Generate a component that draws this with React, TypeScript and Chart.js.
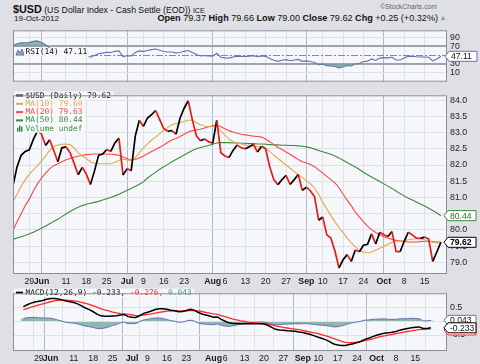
import React, { useEffect, useRef } from "react";
import { Chart, registerables } from "chart.js";
Chart.register(...registerables);

// ---------- data ----------
const tickIdx = [4, 7, 13, 18, 23, 28, 32, 37, 42, 49, 52, 57, 62, 67, 72, 76, 81, 86, 91, 96, 101];
const tickLabels = ["29", "Jun", "11", "18", "25", "Jul", "9", "16", "23", "Aug", "6", "13", "20", "27", "Sep", "10", "17", "24", "Oct", "8", "15"];
const monthLabels = ["Jun", "Jul", "Aug", "Sep", "Oct"];

const closeVals = [
  81.37, 81.95, 82.3, 82.42, 82.47, 82.79, 83.05, 82.95, 82.6, 82.78,
  82.45, 82.1, 82.53, 82.56, 82.38, 82.05, 81.7, 81.93, 81.72, 81.4,
  81.82, 82.3, 82.34, 82.48, 82.42, 82.68, 82.83, 81.69, 81.89, 81.82,
  82.89, 83.38, 83.19, 83.45, 83.55, 83.68, 83.4, 83.12, 83.04, 83.06,
  82.95, 83.45, 83.75, 83.98, 83.4, 82.9, 82.75, 82.8, 82.72, 82.67,
  83.38, 82.38, 82.28, 82.23, 82.45, 82.62, 82.53, 82.5, 82.56, 82.64,
  82.4, 82.58, 82.5, 81.95, 81.55, 81.39, 81.55, 81.68, 81.4, 81.55,
  81.71, 81.22, 81.32, 81.2, 81.02, 80.3, 80.4, 79.85, 79.75, 79.35,
  78.83, 79.08, 79.24, 79.03, 79.38, 79.33, 79.53, 79.56, 79.88, 79.57,
  79.93, 79.85, 79.8, 79.95, 79.34, 79.33, 79.65, 79.93, 79.85, 79.75,
  79.74, 79.78, 79.72, 79.03, 79.32, 79.62,
];
const ma10 = [
  80.88, 81.1, 81.35, 81.55, 81.72, 81.85, 81.98, 82.12, 82.28, 82.45,
  82.57, 82.62, 82.64, 82.65, 82.63, 82.52, 82.38, 82.28, 82.2, 82.1,
  82.05, 82.04, 82.04, 82.04, 82.04, 82.08, 82.15, 82.18, 82.16, 82.14,
  82.22, 82.38, 82.53, 82.65, 82.77, 82.86, 82.97, 83.07, 83.16, 83.24,
  83.28, 83.3, 83.34, 83.38, 83.38, 83.3, 83.24, 83.2, 83.18, 83.18,
  83.2, 83.05, 82.92, 82.8, 82.72, 82.68, 82.65, 82.62, 82.6, 82.58,
  82.57, 82.56, 82.52, 82.42, 82.3, 82.2, 82.1, 82.0, 81.9, 81.8,
  81.7, 81.62, 81.52, 81.42, 81.3, 81.1, 80.85, 80.65, 80.45, 80.25,
  80.08, 79.92, 79.75, 79.6, 79.48, 79.38, 79.32, 79.3, 79.32, 79.38,
  79.44, 79.5, 79.56, 79.62, 79.65, 79.66, 79.68, 79.7, 79.72, 79.73,
  79.73, 79.7, 79.67, 79.62, 79.6, 79.6,
];
const ma20 = [
  80.0, 80.25, 80.5, 80.75, 80.95, 81.2, 81.42, 81.6, 81.75, 81.88,
  81.98, 82.04, 82.1, 82.16, 82.2, 82.24, 82.27, 82.3, 82.32, 82.33,
  82.34, 82.34, 82.34, 82.34, 82.33, 82.32, 82.3, 82.25, 82.2, 82.15,
  82.17, 82.22, 82.28, 82.35, 82.42, 82.48, 82.55, 82.62, 82.7, 82.77,
  82.82, 82.88, 82.95, 83.02, 83.06, 83.08, 83.1, 83.14, 83.18, 83.21,
  83.24, 83.18, 83.12, 83.06, 83.02, 82.98, 82.95, 82.93, 82.91, 82.89,
  82.88, 82.86, 82.8, 82.72, 82.63, 82.55, 82.48, 82.4, 82.33, 82.25,
  82.17, 82.1, 82.06, 82.02, 81.95, 81.85, 81.75, 81.65, 81.55, 81.45,
  81.3, 81.1, 80.92, 80.75, 80.55, 80.4, 80.25, 80.12, 80.01, 79.92,
  79.85, 79.79, 79.75, 79.71, 79.68, 79.66, 79.64, 79.63, 79.63, 79.63,
  79.64, 79.65, 79.65, 79.64, 79.63, 79.63,
];
const ma50 = [
  79.71, 79.75, 79.79, 79.83, 79.88, 79.93, 79.99, 80.05, 80.12, 80.19,
  80.26, 80.33, 80.41, 80.49, 80.57, 80.64, 80.7, 80.75, 80.79, 80.82,
  80.85, 80.88, 80.92, 80.96, 81.0, 81.05, 81.1, 81.16, 81.22, 81.28,
  81.34, 81.41, 81.48, 81.6, 81.69, 81.78, 81.87, 81.95, 82.02, 82.1,
  82.17, 82.24, 82.31, 82.38, 82.45, 82.5, 82.54, 82.57, 82.6, 82.64,
  82.68, 82.69, 82.69, 82.69, 82.68, 82.68, 82.67, 82.67, 82.66, 82.66,
  82.65, 82.65, 82.64, 82.63, 82.62, 82.62, 82.61, 82.61, 82.6, 82.6,
  82.59, 82.58, 82.56, 82.53, 82.49, 82.45, 82.41, 82.37, 82.33, 82.28,
  82.22, 82.15, 82.08, 82.01, 81.94, 81.86, 81.78, 81.7, 81.63, 81.56,
  81.49, 81.42, 81.35, 81.28, 81.2, 81.12, 81.05, 80.98, 80.92, 80.86,
  80.8, 80.74, 80.67, 80.6, 80.52, 80.44,
];
const rsiVals = [
  72, 76, 78, 78.3, 78.5, 81.5, 82.5, 79, 74, 66,
  61, 58, 60, 59, 56, 54, 52, 53, 51, 45,
  49, 53, 54.5, 56.5, 56, 58.5, 59.6, 46.5, 48.5, 48,
  56, 59.5, 58.5, 60.5, 62.5, 63.8, 61, 58, 57, 57,
  55, 56, 58.5, 60.5, 56, 51, 48, 49, 48, 47.5,
  54, 45, 43.5, 43, 45.5, 47.5, 47, 46.5, 47.5, 48.7,
  46, 48, 47, 42, 38, 35.5, 38, 39.5, 37, 38.5,
  40, 35.5, 36.5, 35, 33, 28, 29, 25.5, 25, 23.5,
  20.5, 23, 26, 25, 30, 30.5, 35, 36, 41, 37.5,
  43, 44, 43.5, 45, 38.5, 38.5, 43, 47.5, 47, 46,
  45.5, 45.5, 45, 36.5, 41, 47.11,
];
const macdVals = [
  0.55, 0.62, 0.68, 0.72, 0.75, 0.78, 0.82, 0.85, 0.85, 0.83,
  0.8, 0.76, 0.73, 0.7, 0.65, 0.58, 0.5, 0.44, 0.36, 0.27,
  0.21, 0.19, 0.19, 0.2, 0.21, 0.24, 0.26, 0.18, 0.16, 0.15,
  0.22, 0.3, 0.34, 0.39, 0.44, 0.47, 0.47, 0.45, 0.42, 0.4,
  0.36, 0.37, 0.41, 0.45, 0.42, 0.34, 0.28, 0.24, 0.2, 0.16,
  0.17, 0.08, 0.01, -0.05, -0.07, -0.07, -0.08, -0.08, -0.08, -0.07,
  -0.08, -0.08, -0.09, -0.14, -0.22, -0.29, -0.31, -0.32, -0.34, -0.35,
  -0.36, -0.39, -0.41, -0.44, -0.48, -0.53, -0.58, -0.63, -0.68, -0.75,
  -0.83, -0.87, -0.89, -0.89, -0.85, -0.82, -0.78, -0.73, -0.66, -0.62,
  -0.56, -0.51, -0.47, -0.43, -0.42, -0.4, -0.37, -0.32, -0.29, -0.26,
  -0.23, -0.21, -0.2, -0.26, -0.26, -0.233,
];
const signalVals = [
  0.44, 0.48, 0.53, 0.57, 0.61, 0.65, 0.69, 0.73, 0.76, 0.78,
  0.79, 0.79, 0.78, 0.76, 0.74, 0.71, 0.67, 0.63, 0.58, 0.53,
  0.47, 0.43, 0.39, 0.35, 0.32, 0.29, 0.28, 0.26, 0.24, 0.22,
  0.22, 0.24, 0.26, 0.28, 0.31, 0.34, 0.36, 0.38, 0.39, 0.39,
  0.39, 0.39, 0.39, 0.4, 0.4, 0.39, 0.37, 0.34, 0.31, 0.28,
  0.26, 0.22, 0.18, 0.13, 0.09, 0.06, 0.02, 0.0, -0.02, -0.04,
  -0.05, -0.06, -0.07, -0.09, -0.12, -0.16, -0.19, -0.22, -0.24, -0.26,
  -0.28, -0.3, -0.33, -0.36, -0.39, -0.42, -0.45, -0.49, -0.53, -0.58,
  -0.63, -0.68, -0.73, -0.77, -0.78, -0.78, -0.76, -0.74, -0.71, -0.68,
  -0.64, -0.6, -0.56, -0.53, -0.5, -0.48, -0.45, -0.42, -0.39, -0.37,
  -0.35, -0.32, -0.3, -0.29, -0.28, -0.276,
];
const histVals = [
  0.11, 0.14, 0.15, 0.15, 0.14, 0.13, 0.13, 0.12, 0.09, 0.05,
  0.01, -0.03, -0.05, -0.06, -0.09, -0.13, -0.17, -0.19, -0.22, -0.26,
  -0.26, -0.24, -0.2, -0.15, -0.11, -0.05, -0.02, -0.08, -0.08, -0.07,
  0.0, 0.06, 0.08, 0.11, 0.13, 0.13, 0.11, 0.07, 0.03, 0.01,
  -0.03, -0.02, 0.02, 0.05, 0.02, -0.05, -0.09, -0.1, -0.11, -0.12,
  -0.09, -0.14, -0.17, -0.18, -0.16, -0.13, -0.1, -0.08, -0.06, -0.03,
  -0.03, -0.02, -0.02, -0.05, -0.1, -0.13, -0.12, -0.1, -0.1, -0.09,
  -0.08, -0.09, -0.08, -0.08, -0.09, -0.11, -0.13, -0.14, -0.15, -0.17,
  -0.2, -0.19, -0.16, -0.12, -0.07, -0.04, -0.02, 0.01, 0.05, 0.06,
  0.08, 0.09, 0.09, 0.1, 0.08, 0.08, 0.08, 0.1, 0.1, 0.11,
  0.12, 0.11, 0.1, 0.03, 0.02, 0.043,
];
const priceTicks = [79, 79.5, 80, 80.5, 81, 81.5, 82, 82.5, 83, 83.5, 84];
const rsiTicks = [10, 30, 70, 90];
const macdTicks = [-0.5, 0, 0.5];

// ---------- styles ----------
const FONT = "'Liberation Sans', Arial, sans-serif";
const MONO = "'DejaVu Sans Mono', monospace";
const BG = "#dfe0e6";
const PLOT_BG = "#f6f7fa";
const GRID = "#dfe1e8";
const MONTH_GRID = "#b5b7c0";
const BORDER = "#8c8e95";
const BLACK = "#000000";
const RED = "#e31b1b";
const MA10_C = "#e2a94c";
const MA20_C = "#ff4545";
const MA50_C = "#3c8b3c";
const RSI_C = "#6770b2";
const RSI_FILL = "rgba(104,168,148,0.8)";
const HIST_FILL = "#8dbbab";
const HIST_LINE = "#6474b0";
const X_MAX = 106.5;

const pts = (arr: number[]) => arr.map((v, i) => ({ x: i, y: v }));
const isMonthIdx = (v: any) => {
  const k = tickIdx.indexOf(v);
  return k >= 0 && monthLabels.includes(tickLabels[k]);
};

function xScale(showLabels: boolean) {
  return {
    type: "linear",
    min: 0,
    max: X_MAX,
    afterBuildTicks: (s: any) => {
      s.ticks = tickIdx.map((v) => ({ value: v }));
    },
    afterFit: (s: any) => {
      s.height = showLabels ? 13 : 0;
    },
    grid: {
      drawTicks: false,
      lineWidth: 1,
      color: (c: any) => (isMonthIdx(c.tick && c.tick.value) ? MONTH_GRID : GRID),
    },
    border: { display: false },
    ticks: {
      display: showLabels,
      autoSkip: false,
      maxRotation: 0,
      minRotation: 0,
      padding: 2,
      color: "#1a1a1a",
      callback: (v: number) => {
        const k = tickIdx.indexOf(v);
        return k >= 0 ? tickLabels[k] : "";
      },
      font: (c: any) => ({
        family: FONT,
        size: 8.8,
        weight: isMonthIdx(c.tick && c.tick.value) ? "bold" : "normal",
      }),
    },
  };
}

function yScale(min: number, max: number, ticks: number[], fmt: (v: number) => string, gridColor: any, gridWidth: any) {
  return {
    position: "right",
    min,
    max,
    afterBuildTicks: (s: any) => {
      s.ticks = ticks.map((v) => ({ value: v }));
    },
    afterFit: (s: any) => {
      s.width = 33;
    },
    grid: { drawTicks: false, color: gridColor, lineWidth: gridWidth },
    border: { display: false },
    ticks: {
      padding: 3,
      color: "#222",
      font: { family: FONT, size: 8.8 },
      callback: (v: number) => fmt(v),
    },
  };
}

type Part = { text: string; color: string };
type Row = { parts: Part[]; marker: string; color: string };

function drawLegend(ctx: CanvasRenderingContext2D, x0: number, y0: number, lineH: number, rows: Row[]) {
  ctx.save();
  ctx.font = `7.9px ${MONO}`;
  ctx.textBaseline = "middle";
  rows.forEach((row, r) => {
    const y = y0 + r * lineH;
    let w = 0;
    row.parts.forEach((p) => (w += ctx.measureText(p.text).width));
    ctx.fillStyle = "rgba(246,247,250,0.93)";
    ctx.fillRect(x0 - 2, y - lineH / 2, 11 + w + 3, lineH);
    if (row.marker === "line") {
      ctx.fillStyle = row.color;
      ctx.fillRect(x0, y - 1, 7, 2);
    } else if (row.marker === "bars") {
      ctx.fillStyle = row.color;
      ctx.fillRect(x0 + 1, y - 1, 1.5, 4);
      ctx.fillRect(x0 + 3, y - 3, 1.5, 6);
      ctx.fillRect(x0 + 5, y - 2, 1.5, 5);
    } else if (row.marker === "mountain") {
      ctx.beginPath();
      ctx.moveTo(x0, y + 3);
      ctx.lineTo(x0 + 2, y - 2);
      ctx.lineTo(x0 + 4, y + 1);
      ctx.lineTo(x0 + 6, y - 3);
      ctx.lineTo(x0 + 8, y + 3);
      ctx.closePath();
      ctx.fillStyle = RSI_FILL;
      ctx.fill();
      ctx.strokeStyle = row.color;
      ctx.lineWidth = 1;
      ctx.stroke();
    }
    let x = x0 + 9.5;
    row.parts.forEach((p) => {
      ctx.fillStyle = p.color;
      ctx.fillText(p.text, x, y);
      x += ctx.measureText(p.text).width;
    });
  });
  ctx.restore();
}

function drawTag(ctx: CanvasRenderingContext2D, xTip: number, y: number, text: string, border: string, color: string, bold: boolean) {
  const w = 28;
  const h = 10;
  ctx.save();
  ctx.beginPath();
  ctx.moveTo(xTip, y);
  ctx.lineTo(xTip + 4, y - h / 2);
  ctx.lineTo(xTip + 4 + w, y - h / 2);
  ctx.lineTo(xTip + 4 + w, y + h / 2);
  ctx.lineTo(xTip + 4, y + h / 2);
  ctx.closePath();
  ctx.fillStyle = "#ffffff";
  ctx.fill();
  ctx.strokeStyle = border;
  ctx.lineWidth = 1;
  ctx.stroke();
  ctx.fillStyle = color;
  ctx.font = `${bold ? "bold " : ""}8.6px ${FONT}`;
  ctx.textBaseline = "middle";
  ctx.textAlign = "left";
  ctx.fillText(text, xTip + 6, y + 0.5);
  ctx.restore();
}

function panelPlugin(id: string, legend: (c: any) => void, tags: (c: any) => void, extra?: (c: any) => void) {
  return {
    id,
    beforeDraw(chart: any) {
      const { ctx, chartArea: a } = chart;
      ctx.save();
      ctx.fillStyle = PLOT_BG;
      ctx.fillRect(a.left, a.top, a.right - a.left, a.bottom - a.top);
      ctx.restore();
    },
    beforeDatasetsDraw(chart: any) {
      if (extra) extra(chart);
    },
    afterDatasetsDraw(chart: any) {
      legend(chart);
    },
    afterDraw(chart: any) {
      const { ctx, chartArea: a } = chart;
      ctx.save();
      ctx.strokeStyle = BORDER;
      ctx.lineWidth = 1;
      ctx.strokeRect(a.left + 0.5, a.top + 0.5, a.right - a.left - 1, a.bottom - a.top - 1);
      ctx.restore();
      tags(chart);
    },
  };
}

const baseOptions = {
  responsive: false,
  animation: false,
  devicePixelRatio: 1,
  events: [],
  elements: { point: { radius: 0 }, line: { tension: 0 } },
  plugins: { legend: { display: false }, tooltip: { enabled: false } },
};

function rsiConfig(): any {
  return {
    type: "line",
    data: {
      datasets: [
        {
          data: pts(rsiVals),
          borderColor: RSI_C,
          borderWidth: 1.1,
          fill: { target: { value: 70 }, above: RSI_FILL, below: "rgba(0,0,0,0)" },
        },
        {
          data: pts(rsiVals),
          borderColor: "rgba(0,0,0,0)",
          borderWidth: 0,
          fill: { target: { value: 30 }, above: "rgba(0,0,0,0)", below: RSI_FILL },
        },
      ],
    },
    options: {
      ...baseOptions,
      layout: { padding: { left: 13, top: 2, right: 0, bottom: 1 } },
      scales: {
        x: xScale(false),
        y: yScale(
          -11.3,
          106.9,
          rsiTicks,
          (v) => String(v),
          (c: any) => (c.tick && (c.tick.value === 30 || c.tick.value === 70) ? "#a3a5ab" : GRID),
          (c: any) => (c.tick && (c.tick.value === 30 || c.tick.value === 70) ? 2 : 1)
        ),
      },
    },
    plugins: [
      panelPlugin(
        "rsiPanel",
        (chart) =>
          drawLegend(chart.ctx, 16, 30, 8.3, [
            { parts: [{ text: "RSI(14) " + rsiVals[rsiVals.length - 1].toFixed(2), color: "#111" }], marker: "mountain", color: RSI_C },
          ]),
        (chart) => {
          const ys = chart.scales.y;
          drawTag(chart.ctx, chart.chartArea.right - 2, ys.getPixelForValue(rsiVals[rsiVals.length - 1]), rsiVals[rsiVals.length - 1].toFixed(2), RSI_C, "#111", false);
        },
        (chart) => {
          const { ctx, chartArea: a, scales } = chart;
          const y = Math.round(scales.y.getPixelForValue(50)) + 0.5;
          ctx.save();
          ctx.strokeStyle = "#8a8a8a";
          ctx.lineWidth = 1;
          ctx.setLineDash([7, 2, 2, 2]);
          ctx.beginPath();
          ctx.moveTo(a.left, y);
          ctx.lineTo(a.right, y);
          ctx.stroke();
          ctx.restore();
        }
      ),
    ],
  };
}

function mainConfig(): any {
  const last = closeVals.length - 1;
  return {
    type: "line",
    data: {
      datasets: [
        {
          data: pts(closeVals),
          borderColor: BLACK,
          borderWidth: 1.7,
          segment: { borderColor: (c: any) => (c.p1.parsed.y < c.p0.parsed.y ? RED : BLACK) },
        },
        { data: pts(ma10), borderColor: MA10_C, borderWidth: 1.1 },
        { data: pts(ma20), borderColor: MA20_C, borderWidth: 1.1 },
        { data: pts(ma50), borderColor: MA50_C, borderWidth: 1.1 },
      ],
    },
    options: {
      ...baseOptions,
      layout: { padding: { left: 13, top: 2, right: 0, bottom: 0 } },
      scales: {
        x: xScale(true),
        y: yScale(78.643, 84.149, priceTicks, (v) => v.toFixed(1), GRID, 1),
      },
    },
    plugins: [
      panelPlugin(
        "mainPanel",
        (chart) =>
          drawLegend(chart.ctx, 16, 95.5 - 87, 8.3, [
            { parts: [{ text: "$USD (Daily) " + closeVals[last].toFixed(2), color: "#111" }], marker: "line", color: BLACK },
            { parts: [{ text: "MA(10) " + ma10[last].toFixed(2), color: MA10_C }], marker: "line", color: MA10_C },
            { parts: [{ text: "MA(20) " + ma20[last].toFixed(2), color: MA20_C }], marker: "line", color: MA20_C },
            { parts: [{ text: "MA(50) " + ma50[last].toFixed(2), color: MA50_C }], marker: "line", color: MA50_C },
            { parts: [{ text: "Volume undef", color: MA50_C }], marker: "bars", color: MA50_C },
          ]),
        (chart) => {
          const ys = chart.scales.y;
          const xt = chart.chartArea.right - 3;
          drawTag(chart.ctx, xt, ys.getPixelForValue(ma50[last]), ma50[last].toFixed(2), MA50_C, "#2b6b2b", false);
          drawTag(chart.ctx, xt, ys.getPixelForValue(closeVals[last]), closeVals[last].toFixed(2), "#000", "#000", true);
        }
      ),
    ],
  };
}

function macdConfig(): any {
  const last = macdVals.length - 1;
  return {
    type: "line",
    data: {
      datasets: [
        { data: pts(macdVals), borderColor: BLACK, borderWidth: 1.5 },
        { data: pts(signalVals), borderColor: "#ff2a2a", borderWidth: 1.3 },
        { data: pts(histVals), borderColor: HIST_LINE, borderWidth: 1 },
        {
          type: "bar",
          data: pts(histVals),
          backgroundColor: HIST_FILL,
          borderColor: "rgba(90,110,150,0.55)",
          borderWidth: { left: 1, right: 0, top: 0, bottom: 0 },
          barPercentage: 1,
          categoryPercentage: 1,
        },
      ],
    },
    options: {
      ...baseOptions,
      layout: { padding: { left: 13, top: 2, right: 0, bottom: 0 } },
      scales: {
        x: xScale(true),
        y: yScale(-1.09, 1.043, macdTicks, (v) => v.toFixed(1), GRID, 1),
      },
    },
    plugins: [
      panelPlugin(
        "macdPanel",
        (chart) =>
          drawLegend(chart.ctx, 16, 292.7 - 285, 8.3, [
            {
              parts: [
                { text: "MACD(12,26,9) " + macdVals[last].toFixed(3) + ", ", color: "#111" },
                { text: signalVals[last].toFixed(3) + ", ", color: "#ff2a2a" },
                { text: histVals[last].toFixed(3), color: "#4f9a85" },
              ],
              marker: "line",
              color: BLACK,
            },
          ]),
        (chart) => {
          const ys = chart.scales.y;
          const xt = chart.chartArea.right - 3;
          drawTag(chart.ctx, xt, ys.getPixelForValue(histVals[last]), histVals[last].toFixed(3), HIST_LINE, "#111", false);
          drawTag(chart.ctx, xt, ys.getPixelForValue(signalVals[last]) + 1, signalVals[last].toFixed(3), "#ff2a2a", "#111", false);
          drawTag(chart.ctx, xt, ys.getPixelForValue(macdVals[last]), macdVals[last].toFixed(3), "#000", "#111", false);
        }
      ),
    ],
  };
}

export default function App() {
  const rsiRef = useRef<HTMLCanvasElement>(null);
  const mainRef = useRef<HTMLCanvasElement>(null);
  const macdRef = useRef<HTMLCanvasElement>(null);

  useEffect(() => {
    const charts = [
      new Chart(rsiRef.current as HTMLCanvasElement, rsiConfig()),
      new Chart(mainRef.current as HTMLCanvasElement, mainConfig()),
      new Chart(macdRef.current as HTMLCanvasElement, macdConfig()),
    ];
    return () => charts.forEach((c) => c.destroy());
  }, []);

  const abs = (o: any) => ({ position: "absolute" as const, whiteSpace: "nowrap" as const, ...o });

  return (
    <div style={{ position: "absolute", left: 0, top: 0, width: 480, height: 364, background: BG, overflow: "hidden", fontFamily: FONT, color: "#111" }}>
      <div style={abs({ left: 13, top: 2, lineHeight: "12px" })}>
        <span style={{ fontWeight: "bold", fontSize: "10.8px" }}>$USD</span>
        <span style={{ fontSize: "8.7px" }}> (US Dollar Index - Cash Settle (EOD)) </span>
        <span style={{ fontSize: "7px" }}>ICE</span>
      </div>
      <div style={abs({ left: 14, top: 13.5, lineHeight: "10px", fontSize: "8.1px" })}>19-Oct-2012</div>
      <div style={abs({ right: 42, top: 13, lineHeight: "10px", fontSize: "9.1px" })}>
        <b>Open</b> 79.37 <b>High</b> 79.66 <b>Low</b> 79.00 <b>Close</b> 79.62 <b>Chg</b> +0.25 (+0.32%)
      </div>
      <div style={abs({ left: 441, top: 16, width: 0, height: 0, borderLeft: "2.5px solid transparent", borderRight: "2.5px solid transparent", borderBottom: "4px solid #8a92b2" })} />
      <div style={abs({ right: 43, top: 3, lineHeight: "8px", fontSize: "6.8px", color: "#666" })}>©StockCharts.com</div>
      <canvas ref={rsiRef} width={480} height={68} style={{ position: "absolute", left: 0, top: 22, width: 480, height: 68 }} />
      <canvas ref={mainRef} width={480} height={200} style={{ position: "absolute", left: 0, top: 87, width: 480, height: 200 }} />
      <canvas ref={macdRef} width={480} height={79} style={{ position: "absolute", left: 0, top: 285, width: 480, height: 79 }} />
    </div>
  );
}
